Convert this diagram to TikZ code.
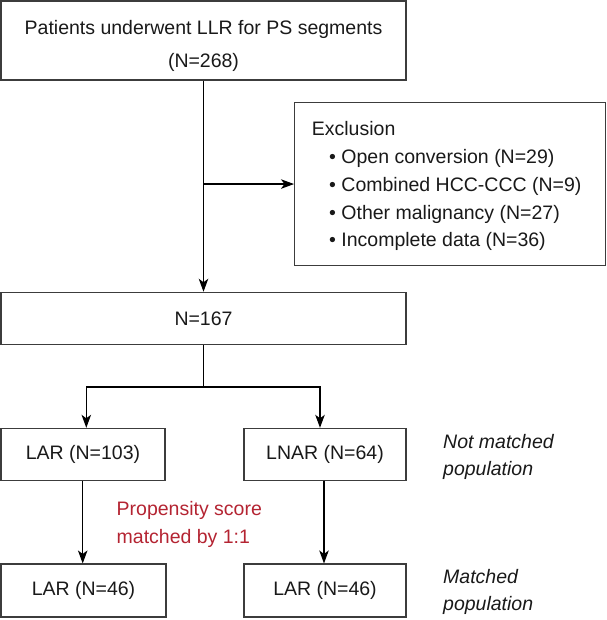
\documentclass[tikz,border=0pt]{standalone}
\usepackage{fontspec}
\setmainfont{Liberation Sans}
\usetikzlibrary{arrows.meta}
\definecolor{boxgray}{RGB}{60,60,60}
\definecolor{txtgray}{RGB}{25,25,25}
\definecolor{psred}{RGB}{180,36,50}
\begin{document}
\begin{tikzpicture}[x=1pt,y=-1pt,
  box/.style={draw=boxgray, line width=1.1pt, inner sep=0pt, text=txtgray, font=\fontsize{19.5}{23}\selectfont},
  txt/.style={inner sep=0pt, text=txtgray, font=\fontsize{19.5}{23}\selectfont},
  itxt/.style={txt, font=\fontsize{19.5}{23}\selectfont\itshape},
  conn/.style={draw=black, line width=1.1pt},
  arr/.style={conn, -{Stealth[length=13pt,width=9.5pt,inset=3.5pt]}}]
\useasboundingbox (0,0) rectangle (606,620);
% boxes
\node[box, minimum width=405pt, minimum height=79pt] (top) at (203.5,40.5) {};
\node[txt, anchor=base] (t1) at (203.5,35) {Patients underwent LLR for PS segments};
\node[txt, anchor=base] (t2) at (203.5,68) {(N=268)};
\node[box, minimum width=311pt, minimum height=163pt, anchor=north west] (excl) at (294,102) {};
\node[txt, anchor=base west] (ex0) at (311.7,136) {Exclusion};
\node[txt, anchor=base west] (ex1) at (329,163.5) {• Open conversion (N=29)};
\node[txt, anchor=base west] (ex2) at (329,191.3) {• Combined HCC-CCC (N=9)};
\node[txt, anchor=base west] (ex3) at (329,219.1) {• Other malignancy (N=27)};
\node[txt, anchor=base west] (ex4) at (329,246.9) {• Incomplete data (N=36)};
\node[box, minimum width=405pt, minimum height=52pt] (n167) at (203.5,318.3) {N=167};
\node[box, minimum width=164pt, minimum height=51.7pt] (lar1) at (83,454.2) {LAR (N=103)};
\node[box, minimum width=162pt, minimum height=51.7pt] (lnar) at (325,454.2) {LNAR (N=64)};
\node[box, minimum width=165pt, minimum height=53pt] (lar2) at (83.5,590.5) {LAR (N=46)};
\node[box, minimum width=162pt, minimum height=53pt] (lar3) at (325,590.5) {LAR (N=46)};
% side labels
\node[itxt, anchor=base west] (nm1) at (443,448) {Not matched};
\node[itxt, anchor=base west] (nm2) at (443,475) {population};
\node[itxt, anchor=base west] (m1) at (443,583) {Matched};
\node[itxt, anchor=base west] (m2) at (443,610) {population};
\node[txt, anchor=base west, text=psred] (ps1) at (116.5,515) {Propensity score};
\node[txt, anchor=base west, text=psred] (ps2) at (116.5,543) {matched by 1:1};
% connectors
\draw[arr] (top.south) -- (n167.north);
\draw[arr] (top.south |- excl.west) -- (excl.west);
\coordinate (br) at (203.5,387);
\draw[conn] (n167.south) -- (br);
\draw[arr] (br) -| ([xshift=3.3pt]lar1.north);
\draw[arr] (br) -| ([xshift=-5pt]lnar.north);
\draw[arr] ([xshift=-0.3pt]lar1.south) -- ([xshift=-0.8pt]lar2.north);
\draw[arr] ([xshift=-1pt]lnar.south) -- ([xshift=-1pt]lar3.north);
\end{tikzpicture}
\end{document}
